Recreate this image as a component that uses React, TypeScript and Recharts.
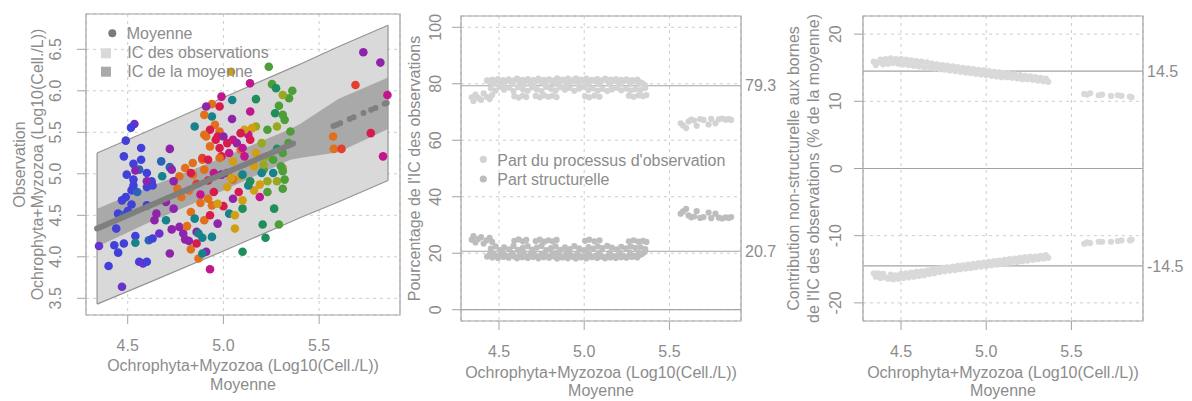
import React from 'react';
import {
  ComposedChart,
  Scatter,
  Area,
  XAxis,
  YAxis,
  CartesianGrid,
  ReferenceLine,
  ReferenceArea,
  Legend,
} from 'recharts';

const FONT = '"Liberation Sans", Arial, Helvetica, sans-serif';
const TEXT = '#8c8c8c';
const AXIS = '#a3a3a3';
const GRID = '#cdcdcd';

// ---------------- data ----------------
const pointPalette = [
  '#4141d9', '#6a30d0', '#8e24aa', '#c2168e', '#d81b4f', '#e2402e', '#e0701c',
  '#d29e14', '#98a820', '#4c9e38', '#1f8d5c', '#16828c', '#2a64b8',
];

// [mean, observation, colour index]
const observations: [number, number, number][] = [
  [4.49, 5.40, 0], [4.535, 5.60, 1], [4.517, 5.556, 0], [4.48, 5.21, 0], [4.57, 5.31, 0], [4.57, 5.17, 0],
  [4.53, 5.12, 0], [4.56, 5.05, 12], [4.60, 5.01, 0], [4.675, 5.15, 12], [4.72, 5.08, 12], [4.54, 5.04, 2],
  [4.73, 5.05, 2], [4.68, 4.97, 11], [4.625, 4.91, 0], [4.53, 4.93, 0], [4.495, 4.99, 0], [4.52, 4.80, 0],
  [4.55, 4.78, 12], [4.49, 4.72, 0], [4.60, 4.84, 0], [4.47, 4.68, 0], [4.52, 4.63, 0], [4.53, 4.86, 0],
  [4.60, 4.91, 2], [4.63, 4.86, 0], [4.45, 4.52, 0], [4.48, 4.50, 12], [4.60, 4.62, 0], [4.65, 4.52, 2],
  [4.64, 4.44, 2], [4.50, 4.55, 0], [4.44, 4.34, 0], [4.35, 4.13, 1], [4.43, 4.14, 0], [4.45, 4.05, 0],
  [4.48, 4.16, 0], [4.40, 3.89, 0], [4.47, 3.64, 1], [4.54, 4.25, 0], [4.54, 4.17, 11], [4.56, 3.94, 0],
  [4.58, 3.92, 1], [4.60, 3.94, 0], [4.61, 4.20, 12], [4.63, 4.22, 0], [4.665, 4.28, 1], [4.72, 4.04, 2],
  [4.72, 5.30, 2],
  [4.73, 4.33, 2], [4.77, 4.36, 2], [4.79, 4.28, 2], [4.80, 4.21, 2], [4.82, 4.19, 2], [4.81, 4.37, 6],
  [4.83, 4.09, 6], [4.86, 4.16, 4], [4.87, 3.98, 6], [4.86, 4.30, 2], [4.89, 4.23, 11], [4.91, 4.06, 2],
  [4.93, 3.85, 3], [4.89, 4.04, 11], [4.94, 4.24, 11], [4.97, 4.40, 2], [4.83, 4.54, 6], [4.90, 4.44, 6],
  [4.93, 4.50, 4], [5.00, 4.61, 4], [5.03, 4.52, 11], [5.06, 4.50, 7], [5.06, 4.34, 7], [5.10, 4.58, 10],
  [5.10, 4.06, 10], [5.205, 4.39, 10], [5.22, 4.23, 10], [5.265, 4.58, 10], [5.29, 4.39, 9], [4.94, 4.62, 6],
  [4.97, 4.64, 7], [4.88, 4.65, 6], [5.19, 4.72, 3], [5.31, 4.82, 9], [5.16, 4.80, 7], [5.10, 4.68, 7],
  [5.05, 4.70, 2], [5.08, 4.78, 4], [5.13, 4.86, 11], [4.74, 4.58, 2], [4.70, 4.44, 11], [4.85, 4.46, 11],
  [4.87, 4.28, 11], [4.82, 4.80, 6], [4.86, 4.88, 5], [4.92, 4.92, 4], [4.95, 4.78, 4], [4.78, 4.72, 6],
  [4.88, 4.75, 3], [5.02, 4.84, 7], [4.76, 4.82, 6], [4.70, 4.66, 2], [4.92, 4.70, 6],
  [5.237, 6.29, 9], [5.04, 6.23, 7], [5.139, 6.09, 3], [5.254, 6.08, 9], [5.275, 6.03, 10], [5.36, 6.00, 9],
  [5.343, 5.91, 9], [5.31, 5.95, 8], [5.17, 5.90, 10], [5.046, 5.89, 11], [4.99, 5.93, 3], [4.94, 5.84, 6],
  [4.98, 5.81, 4], [4.91, 5.81, 2], [5.14, 5.75, 3], [5.29, 5.82, 9], [5.27, 5.73, 10], [5.31, 5.71, 9],
  [5.045, 5.66, 2], [4.94, 5.69, 11], [4.85, 5.57, 11], [4.956, 5.59, 6], [4.98, 5.51, 6], [4.91, 5.45, 6],
  [4.97, 5.45, 4], [5.17, 5.57, 8], [5.15, 5.55, 7], [5.13, 5.47, 3], [5.23, 5.53, 9], [5.28, 5.57, 8],
  [5.32, 5.65, 9], [5.35, 5.51, 9], [4.90, 5.71, 6], [4.89, 5.17, 6], [4.80, 5.07, 6], [4.84, 4.99, 6],
  [4.84, 5.13, 6], [4.89, 5.19, 5], [4.92, 5.17, 4], [4.99, 5.21, 4], [5.03, 5.25, 3], [5.07, 5.37, 2],
  [5.09, 5.29, 6], [5.17, 5.25, 7], [5.23, 5.21, 8], [5.26, 5.17, 9], [5.31, 5.25, 9], [5.21, 5.05, 9],
  [5.26, 5.01, 11], [5.31, 5.07, 8], [5.23, 4.91, 8], [5.28, 4.91, 8], [5.32, 4.93, 9], [5.14, 4.91, 10],
  [5.19, 4.87, 7], [5.23, 4.78, 9], [5.09, 4.97, 7], [5.05, 4.93, 6], [5.02, 5.01, 2], [4.95, 5.01, 3],
  [4.90, 5.05, 6], [4.83, 5.01, 4], [4.77, 4.97, 6], [4.74, 4.91, 2], [5.11, 5.53, 7], [5.09, 5.49, 4],
  [5.05, 5.41, 3], [5.02, 5.37, 4], [4.96, 5.41, 4], [4.93, 5.53, 4], [4.90, 5.47, 6], [5.00, 5.45, 2],
  [5.14, 5.41, 4], [5.20, 5.37, 8], [5.10, 5.31, 3], [4.98, 5.31, 4], [4.93, 5.33, 6], [4.98, 5.19, 6],
  [5.05, 5.15, 7], [5.11, 5.21, 3], [5.16, 5.09, 7], [5.21, 5.11, 8], [5.30, 5.09, 9], [5.31, 5.03, 9],
  [5.10, 4.99, 11], [4.99, 4.99, 2], [5.04, 4.95, 7], [5.20, 5.01, 11], [5.34, 5.37, 9], [5.28, 5.30, 10],
  [5.731, 6.464, 2], [5.82, 6.34, 2], [5.69, 6.07, 5], [5.857, 5.95, 3], [5.77, 5.49, 4], [5.573, 5.45, 6],
  [5.577, 5.30, 6], [5.617, 5.30, 5], [5.834, 5.21, 3],
];

// mean prediction of each sample (x of panels 1 and 3)
const meanX = [
  4.340, 4.352, 4.366, 4.380, 4.395, 4.410, 4.425, 4.440, 4.455, 4.470,
  4.485, 4.500, 4.515, 4.530, 4.545, 4.560, 4.575, 4.590, 4.605, 4.620,
  4.636, 4.651, 4.666, 4.681, 4.696, 4.711, 4.727, 4.742, 4.757, 4.772,
  4.787, 4.803, 4.818, 4.833, 4.848, 4.863, 4.879, 4.894, 4.909, 4.924,
  4.939, 4.955, 4.970, 4.985, 5.000, 5.015, 5.031, 5.046, 5.061, 5.076,
  5.091, 5.107, 5.122, 5.137, 5.152, 5.167, 5.183, 5.198, 5.213, 5.228,
  5.243, 5.259, 5.274, 5.289, 5.304, 5.319, 5.335, 5.350, 5.364,
  5.575, 5.592, 5.610, 5.660, 5.680, 5.732, 5.772, 5.794, 5.843, 5.853,
];
const contribUpper = [
  15.9, 15.4, 15.8, 16.2, 15.5, 16.3, 15.6, 16.4, 15.7, 16.3,
  15.6, 16.3, 15.5, 16.2, 15.4, 16.1, 15.3, 16.0, 15.2, 15.9,
  15.1, 15.8, 15.0, 15.6, 14.9, 15.5, 14.8, 15.4, 14.7, 15.3,
  14.6, 15.2, 14.5, 15.1, 14.4, 15.0, 14.3, 14.9, 14.2, 14.8,
  14.1, 14.7, 14.0, 14.6, 13.9, 14.5, 13.8, 14.4, 13.7, 14.3,
  13.6, 14.2, 13.6, 14.1, 13.5, 14.0, 13.4, 13.9, 13.3, 13.8,
  13.3, 13.7, 13.2, 13.6, 13.1, 13.5, 13.0, 13.4, 12.9,
  11.1, 11.0, 11.2, 10.9, 11.0, 10.8, 10.9, 10.8, 10.7, 10.6,
];
const contribLower = [
  -15.6, -16.1, -15.6, -16.3, -15.7, -16.2, -16.4, -15.8, -16.5, -15.9,
  -16.4, -15.7, -16.3, -15.6, -16.2, -15.5, -16.1, -15.4, -16.0, -15.3,
  -15.9, -15.2, -15.7, -15.0, -15.6, -14.9, -15.4, -14.8, -15.3, -14.7,
  -15.2, -14.6, -15.1, -14.5, -15.0, -14.4, -14.9, -14.3, -14.8, -14.2,
  -14.7, -14.1, -14.6, -14.0, -14.5, -13.9, -14.4, -13.8, -14.3, -13.7,
  -14.2, -13.6, -14.1, -13.5, -14.0, -13.4, -13.9, -13.3, -13.8, -13.2,
  -13.7, -13.1, -13.6, -13.1, -13.5, -13.0, -13.4, -12.9, -13.3,
  -11.2, -11.0, -11.1, -10.9, -10.9, -10.9, -10.8, -10.7, -10.7, -10.6,
];

// [mean, % observation process, % structural]
const shareRows: [number, number, number][] = [
  [4.430, 81.2, 18.8], [4.445, 80.6, 19.4], [4.460, 81.5, 18.5], [4.478, 80.9, 19.1], [4.494, 81.7, 18.3],
  [4.510, 80.4, 19.6], [4.526, 81.3, 18.7], [4.541, 80.8, 19.2], [4.557, 81.6, 18.4], [4.572, 80.5, 19.5],
  [4.590, 81.2, 18.8], [4.606, 81.8, 18.2], [4.621, 80.7, 19.3], [4.637, 81.4, 18.6], [4.653, 80.9, 19.1],
  [4.669, 81.7, 18.3], [4.684, 80.4, 19.6], [4.700, 81.3, 18.7], [4.716, 81.0, 19.0], [4.731, 81.8, 18.2],
  [4.747, 80.6, 19.4], [4.763, 81.4, 18.6], [4.778, 80.9, 19.1], [4.794, 81.6, 18.4], [4.810, 80.5, 19.5],
  [4.825, 81.2, 18.8], [4.841, 81.9, 18.1], [4.857, 80.7, 19.3], [4.872, 81.5, 18.5], [4.888, 81.0, 19.0],
  [4.904, 81.8, 18.2], [4.919, 80.6, 19.4], [4.935, 81.3, 18.7], [4.951, 81.9, 18.1], [4.966, 80.8, 19.2],
  [4.982, 81.5, 18.5], [4.998, 81.1, 18.9], [5.013, 81.8, 18.2], [5.029, 80.5, 19.5], [5.045, 81.4, 18.6],
  [5.060, 81.0, 19.0], [5.076, 81.7, 18.3], [5.092, 80.6, 19.4], [5.107, 81.3, 18.7], [5.123, 81.8, 18.2],
  [5.139, 80.9, 19.1], [5.154, 81.5, 18.5], [5.170, 81.0, 19.0], [5.186, 81.7, 18.3], [5.201, 80.7, 19.3],
  [5.217, 81.4, 18.6], [5.233, 81.0, 19.0], [5.248, 81.6, 18.4], [5.264, 80.8, 19.2], [5.280, 81.3, 18.7],
  [5.295, 80.9, 19.1], [5.311, 81.5, 18.5], [5.327, 80.6, 19.4], [5.340, 80.2, 19.8], [5.355, 79.6, 20.4],
  [4.452, 78.4, 21.6], [4.480, 77.6, 22.4], [4.505, 78.9, 21.1], [4.530, 77.9, 22.1], [4.560, 78.6, 21.4],
  [4.585, 77.4, 22.6], [4.612, 78.8, 21.2], [4.640, 78.1, 21.9], [4.668, 77.5, 22.5], [4.695, 78.7, 21.3],
  [4.722, 78.0, 22.0], [4.750, 77.4, 22.6], [4.777, 78.9, 21.1], [4.805, 78.2, 21.8], [4.832, 77.6, 22.4],
  [4.860, 78.8, 21.2], [4.887, 77.9, 22.1], [4.915, 78.5, 21.5], [4.942, 77.5, 22.5], [4.970, 78.3, 21.7],
  [4.997, 78.9, 21.1], [5.025, 77.8, 22.2], [5.052, 78.4, 21.6], [5.080, 77.6, 22.4], [5.107, 78.2, 21.8],
  [5.135, 77.4, 22.6], [5.162, 78.0, 22.0], [5.190, 78.6, 21.4], [5.217, 77.7, 22.3], [5.245, 78.3, 21.7],
  [5.272, 77.6, 22.4], [5.300, 78.1, 21.9], [5.330, 77.8, 22.2], [5.358, 78.5, 21.5],
  [4.467, 80.1, 19.9], [4.520, 79.8, 20.2], [4.580, 80.0, 20.0], [4.645, 79.9, 20.1], [4.705, 80.1, 19.9],
  [4.770, 79.8, 20.2], [4.835, 80.0, 20.0], [4.895, 79.9, 20.1], [4.960, 80.1, 19.9], [5.020, 79.9, 20.1],
  [5.085, 80.0, 20.0], [5.150, 79.8, 20.2], [5.210, 80.0, 20.0], [5.270, 79.9, 20.1], [5.320, 80.0, 20.0],
  [4.340, 75.2, 24.8], [4.350, 73.9, 26.1], [4.362, 76.2, 23.8], [4.378, 75.0, 25.0], [4.395, 74.3, 25.7],
  [4.410, 76.6, 23.4], [4.428, 75.4, 24.6], [4.445, 74.6, 25.4], [4.460, 76.0, 24.0], [4.590, 75.6, 24.4],
  [4.615, 75.1, 24.9], [4.640, 75.8, 24.2], [4.660, 75.3, 24.7], [4.715, 75.7, 24.3], [4.740, 75.2, 24.8],
  [4.765, 75.9, 24.1], [4.790, 75.4, 24.6], [4.815, 75.8, 24.2], [4.838, 75.3, 24.7], [5.005, 75.6, 24.4],
  [5.030, 75.2, 24.8], [5.060, 75.8, 24.2], [5.090, 75.4, 24.6], [5.262, 75.8, 24.2], [5.290, 75.4, 24.6],
  [5.318, 75.9, 24.1], [5.345, 75.6, 24.4], [5.365, 76.0, 24.0],
  [5.566, 66.0, 34.0], [5.580, 65.2, 34.8], [5.598, 64.3, 35.7], [5.612, 66.6, 33.4], [5.628, 67.3, 32.7],
  [5.645, 67.0, 33.0], [5.660, 65.1, 34.9], [5.680, 67.5, 32.5], [5.700, 67.2, 32.8], [5.730, 65.6, 34.4],
  [5.745, 67.6, 32.4], [5.770, 66.0, 34.0], [5.790, 67.4, 32.6], [5.810, 67.7, 32.3], [5.830, 67.3, 32.7],
  [5.848, 67.5, 32.5], [5.862, 67.2, 32.8],
];

// confidence bands (panel 1)
const bandX = [4.34, 4.60, 5.00, 5.35, 5.40, 5.60, 5.86];
const obsBandLow = [3.43, 3.68, 4.07, 4.42, 4.47, 4.66, 4.92];
const obsBandHigh = [5.25, 5.51, 5.92, 6.27, 6.32, 6.53, 6.79];
const meanBandLow = [4.12, 4.40, 4.80, 5.17, 5.19, 5.26, 5.54];
const meanBandHigh = [4.58, 4.83, 5.20, 5.54, 5.60, 5.90, 6.16];

const xTicks = [4.5, 5.0, 5.5];
const obsTicks = [3.5, 4.0, 4.5, 5.0, 5.5, 6.0, 6.5];
const pctTicks = [0, 20, 40, 60, 80, 100];
const contribTicks = [-20, -10, 0, 10, 20];
const obsShareMean = 79.3;
const structShareMean = 20.7;
const contribMean = 14.5;

const xTitle = 'Ochrophyta+Myzozoa (Log10(Cell./L))';
const xTitle2 = 'Moyenne';

// ---------------- helpers ----------------
const X1: [number, number] = [4.2821, 5.9226];
const Y1: [number, number] = [3.2988, 6.9253];
const X2: [number, number] = [4.277, 5.920];
const Y2: [number, number] = [-4, 104];
const Y3: [number, number] = [-22.7, 22.7];

const XTick = (props: any) => {
  const { x, y, payload } = props;
  return (
    <text x={x} y={y + 21.7} textAnchor="middle" dominantBaseline="central" fill={TEXT} fontSize={16}>
      {Number(payload.value).toFixed(1)}
    </text>
  );
};

const makeYTick = (dx: number, fmt: (v: number) => string) => (props: any) => {
  const { x, y, payload } = props;
  const cx = x - dx;
  return (
    <text
      x={cx}
      y={y}
      transform={`rotate(-90 ${cx} ${y})`}
      textAnchor="middle"
      dominantBaseline="central"
      fill={TEXT}
      fontSize={16}
    >
      {fmt(Number(payload.value))}
    </text>
  );
};

const hText = (x: number, y: number, s: string) => (
  <text x={x} y={y} textAnchor="middle" dominantBaseline="central" fill={TEXT} fontSize={16}>
    {s}
  </text>
);
const vText = (x: number, y: number, s: string) => (
  <text
    x={x}
    y={y}
    transform={`rotate(-90 ${x} ${y})`}
    textAnchor="middle"
    dominantBaseline="central"
    fill={TEXT}
    fontSize={16}
  >
    {s}
  </text>
);

const colorDot = (p: any) => <circle cx={p.cx} cy={p.cy} r={4.3} fill={p.payload.color} />;
const dotOf = (r: number, fill: string) => (p: any) => <circle cx={p.cx} cy={p.cy} r={r} fill={fill} />;

const Legend1 = () => (
  <svg width={230} height={62} style={{ display: 'block', overflow: 'visible' }}>
    <circle cx={16.3} cy={11.3} r={4} fill="#7b7b7b" />
    <text x={30.7} y={11.3} dominantBaseline="central" fill={TEXT} fontSize={16}>Moyenne</text>
    <rect x={5} y={26.3} width={10} height={10} fill="#d9d9d9" />
    <text x={31.3} y={30.7} dominantBaseline="central" fill={TEXT} fontSize={16}>IC des observations</text>
    <rect x={5} y={44.7} width={10} height={10} fill="#a9a9a9" />
    <text x={31.3} y={49.7} dominantBaseline="central" fill={TEXT} fontSize={16}>IC de la moyenne</text>
  </svg>
);

const Legend2 = () => (
  <svg width={260} height={46} style={{ display: 'block', overflow: 'visible' }}>
    <circle cx={13.3} cy={14.3} r={3.6} fill="#d3d3d3" />
    <text x={27.3} y={15} dominantBaseline="central" fill={TEXT} fontSize={16}>Part du processus d'observation</text>
    <circle cx={13.3} cy={34} r={3.6} fill="#bdbdbd" />
    <text x={27.3} y={34.5} dominantBaseline="central" fill={TEXT} fontSize={16}>Part structurelle</text>
  </svg>
);

export default function App() {
  const bandRows = bandX.map((x, i) => ({
    x,
    obs: [obsBandLow[i], obsBandHigh[i]],
    mean: [meanBandLow[i], meanBandHigh[i]],
  }));
  const obsPoints = observations.map(([x, y, c]) => ({ x, y, color: pointPalette[c] }));
  const meanPoints = meanX.map((x) => ({ x, y: x }));
  const obsShare = shareRows.map(([x, o]) => ({ x, y: o }));
  const structShare = shareRows.map(([x, , s]) => ({ x, y: s }));
  const upper = meanX.map((x, i) => ({ x, y: contribUpper[i] }));
  const lower = meanX.map((x, i) => ({ x, y: contribLower[i] }));
  const last = bandX.length - 1;

  return (
    <div style={{ position: 'absolute', left: 0, top: 0, width: 1192, height: 401, background: '#ffffff', fontFamily: FONT }}>
      {/* Panel 1 */}
      <div style={{ position: 'absolute', left: 0, top: 0 }}>
        <ComposedChart width={420} height={401} data={bandRows} margin={{ top: 14, right: 20, bottom: 0, left: 0 }}>
          <CartesianGrid stroke={GRID} strokeDasharray="3 4" />
          <XAxis
            type="number" dataKey="x" domain={X1} ticks={xTicks} allowDataOverflow interval={0}
            height={86} tickSize={9} tickMargin={0} axisLine={false} tickLine={{ stroke: AXIS }} tick={XTick}
            label={{ content: () => <g>{hText(243, 365.7, xTitle)}{hText(243, 384, xTitle2)}</g> }}
          />
          <YAxis
            type="number" dataKey="y" domain={Y1} ticks={obsTicks} allowDataOverflow interval={0}
            width={86} tickSize={9} tickMargin={0} axisLine={false} tickLine={{ stroke: AXIS }}
            tick={makeYTick(21, (v) => v.toFixed(1))}
            label={{ content: () => <g>{vText(19.5, 164.5, 'Observation')}{vText(37.5, 164.5, xTitle)}</g> }}
          />
          <Area dataKey="obs" type="linear" fill="#d9d9d9" fillOpacity={1} stroke="#949494" strokeWidth={1.2} isAnimationActive={false} />
          <ReferenceLine segment={[{ x: bandX[0], y: obsBandLow[0] }, { x: bandX[0], y: obsBandHigh[0] }]} stroke="#949494" strokeWidth={1.2} />
          <ReferenceLine segment={[{ x: bandX[last], y: obsBandLow[last] }, { x: bandX[last], y: obsBandHigh[last] }]} stroke="#949494" strokeWidth={1.2} />
          <Area dataKey="mean" type="linear" fill="#a9a9a9" fillOpacity={1} stroke="none" isAnimationActive={false} />
          <Scatter data={obsPoints} shape={colorDot} isAnimationActive={false} />
          <Scatter data={meanPoints} shape={dotOf(3, '#7f7f7f')} isAnimationActive={false} />
          <ReferenceArea x1={X1[0]} x2={X1[1]} y1={Y1[0]} y2={Y1[1]} fill="none" fillOpacity={0} stroke={AXIS} strokeWidth={1.2} />
          <Legend
            content={Legend1} layout="horizontal" verticalAlign="middle" align="center"
            wrapperStyle={{ left: 96, top: 22, width: 230, height: 62 }}
          />
        </ComposedChart>
      </div>

      {/* Panel 2 */}
      <div style={{ position: 'absolute', left: 400, top: 0 }}>
        <ComposedChart width={400} height={401} margin={{ top: 16, right: 59, bottom: 0, left: 0 }}>
          <CartesianGrid stroke={GRID} strokeDasharray="3 4" />
          <XAxis
            type="number" dataKey="x" domain={X2} ticks={xTicks} allowDataOverflow interval={0}
            height={80} tickSize={9} tickMargin={0} axisLine={false} tickLine={{ stroke: AXIS }} tick={XTick}
            label={{ content: () => <g>{hText(201, 372, xTitle)}{hText(201, 390.5, xTitle2)}</g> }}
          />
          <YAxis
            type="number" dataKey="y" domain={Y2} ticks={pctTicks} allowDataOverflow interval={0}
            width={61} tickSize={9} tickMargin={0} axisLine={false} tickLine={{ stroke: AXIS }}
            tick={makeYTick(16, (v) => String(v))}
            label={{ content: () => <g>{vText(14, 168.5, "Pourcentage de l'IC des observations")}</g> }}
          />
          <Scatter data={obsShare} shape={dotOf(3.1, '#d3d3d3')} isAnimationActive={false} />
          <Scatter data={structShare} shape={dotOf(3.1, '#bdbdbd')} isAnimationActive={false} />
          <ReferenceLine y={obsShareMean} stroke={AXIS} strokeWidth={1.2}
            label={{ value: String(obsShareMean), position: 'right', offset: 4, fill: TEXT, fontSize: 16 }} />
          <ReferenceLine y={structShareMean} stroke={AXIS} strokeWidth={1.2}
            label={{ value: String(structShareMean), position: 'right', offset: 4, fill: TEXT, fontSize: 16 }} />
          <ReferenceLine y={0} stroke={AXIS} strokeWidth={1.2} />
          <ReferenceArea x1={X2[0]} x2={X2[1]} y1={Y2[0]} y2={Y2[1]} fill="none" fillOpacity={0} stroke={AXIS} strokeWidth={1.2} />
          <Legend
            content={Legend2} layout="horizontal" verticalAlign="middle" align="center"
            wrapperStyle={{ left: 70, top: 145, width: 260, height: 46 }}
          />
        </ComposedChart>
      </div>

      {/* Panel 3 */}
      <div style={{ position: 'absolute', left: 780, top: 0 }}>
        <ComposedChart width={412} height={401} margin={{ top: 16, right: 49, bottom: 0, left: 0 }}>
          <CartesianGrid stroke={GRID} strokeDasharray="3 4" />
          <XAxis
            type="number" dataKey="x" domain={X2} ticks={xTicks} allowDataOverflow interval={0}
            height={80} tickSize={9} tickMargin={0} axisLine={false} tickLine={{ stroke: AXIS }} tick={XTick}
            label={{ content: () => <g>{hText(223, 372.5, xTitle)}{hText(223, 390.5, xTitle2)}</g> }}
          />
          <YAxis
            type="number" dataKey="y" domain={Y3} ticks={contribTicks} allowDataOverflow interval={0}
            width={83} tickSize={9} tickMargin={0} axisLine={false} tickLine={{ stroke: AXIS }}
            tick={makeYTick(18, (v) => String(v))}
            label={{
              content: () => (
                <g>
                  {vText(13, 168.5, 'Contribution non-structurelle aux bornes')}
                  {vText(33.5, 168.5, "de l'IC des observations (% de la moyenne)")}
                </g>
              ),
            }}
          />
          <Scatter data={upper} shape={dotOf(3.1, '#d9d9d9')} isAnimationActive={false} />
          <Scatter data={lower} shape={dotOf(3.1, '#d9d9d9')} isAnimationActive={false} />
          <ReferenceLine y={contribMean} stroke={AXIS} strokeWidth={1.2}
            label={{ value: String(contribMean), position: 'right', offset: 4, fill: TEXT, fontSize: 16 }} />
          <ReferenceLine y={-contribMean} stroke={AXIS} strokeWidth={1.2}
            label={{ value: String(-contribMean), position: 'right', offset: 4, fill: TEXT, fontSize: 16 }} />
          <ReferenceLine y={0} stroke={AXIS} strokeWidth={1.2} />
          <ReferenceArea x1={X2[0]} x2={X2[1]} y1={Y3[0]} y2={Y3[1]} fill="none" fillOpacity={0} stroke={AXIS} strokeWidth={1.2} />
        </ComposedChart>
      </div>
    </div>
  );
}
